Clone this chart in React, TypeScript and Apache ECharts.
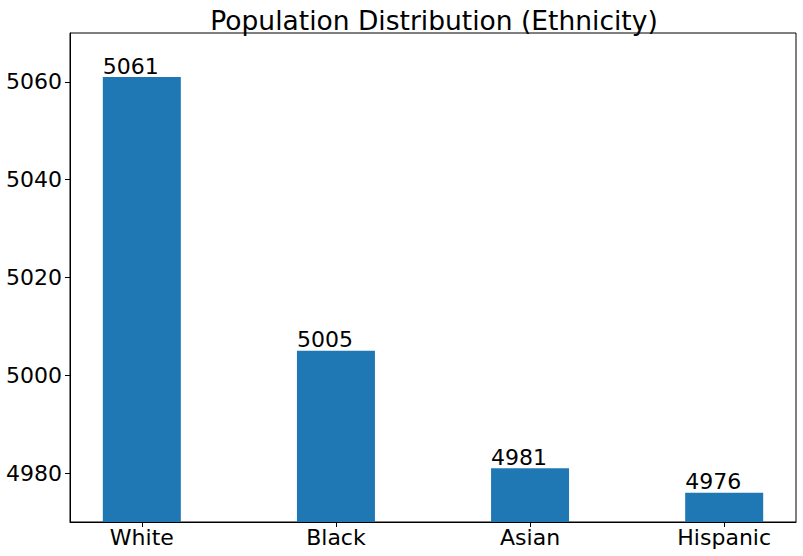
import React, { useEffect, useRef } from "react";
import * as echarts from "echarts";

const categories = ["White", "Black", "Asian", "Hispanic"];
const populations = [5061, 5005, 4981, 4976];
const yTicks = [4980, 5000, 5020, 5040, 5060];

const FONT = "DejaVu Sans";

export default function App() {
  const ref = useRef<HTMLDivElement>(null);
  useEffect(() => {
    if (!ref.current) return;
    const chart = echarts.init(ref.current, null, { renderer: "svg" });
    const positions = categories.map((_, i) => i);
    chart.setOption({
      animation: false,
      backgroundColor: "#fff",
      title: {
        text: "Population Distribution (Ethnicity)",
        left: 429,
        textAlign: "center",
        top: 2,
        textStyle: { fontFamily: FONT, fontSize: 26.5, fontWeight: "normal", color: "#000" },
      },
      grid: {
        left: 70,
        right: 7,
        top: 33,
        bottom: 34,
        containLabel: false,
        outerBoundsMode: "none",
        show: true,
        borderColor: "#000",
        borderWidth: 1,
        backgroundColor: "transparent",
      },
      xAxis: {
        type: "value",
        min: -0.37,
        max: 3.37,
        splitLine: { show: false },
        axisLine: { show: true, onZero: false, lineStyle: { color: "#000", width: 1 } },
        axisTick: { show: true, length: 5, lineStyle: { color: "#000" }, customValues: positions },
        axisLabel: {
          show: true,
          customValues: positions,
          formatter: (v: number) => categories[Math.round(v)] ?? "",
          fontFamily: FONT,
          fontSize: 22,
          color: "#000",
          margin: 4,
        },
      },
      yAxis: {
        type: "value",
        min: 4970,
        max: 5070,
        splitLine: { show: false },
        axisLine: { show: true, onZero: false, lineStyle: { color: "#000", width: 1 } },
        axisTick: { show: true, length: 5, lineStyle: { color: "#000" }, customValues: yTicks },
        axisLabel: {
          show: true,
          customValues: yTicks,
          formatter: (v: number) => String(v),
          fontFamily: FONT,
          fontSize: 22,
          color: "#000",
          margin: 8,
        },
      },
      series: [
        {
          type: "bar",
          data: positions.map((p, i) => [p, populations[i]]),
          barWidth: 78,
          itemStyle: { color: "#1f77b4" },
          label: {
            show: true,
            position: [0, 0],
            align: "left",
            verticalAlign: "bottom",
            formatter: (p: any) => String(p.value[1]),
            fontFamily: FONT,
            fontSize: 22,
            color: "#000",
          },
        },
      ],
    });
    return () => chart.dispose();
  }, []);
  return <div ref={ref} style={{ width: 803, height: 556, position: "absolute", left: 0, top: 0 }} />;
}
